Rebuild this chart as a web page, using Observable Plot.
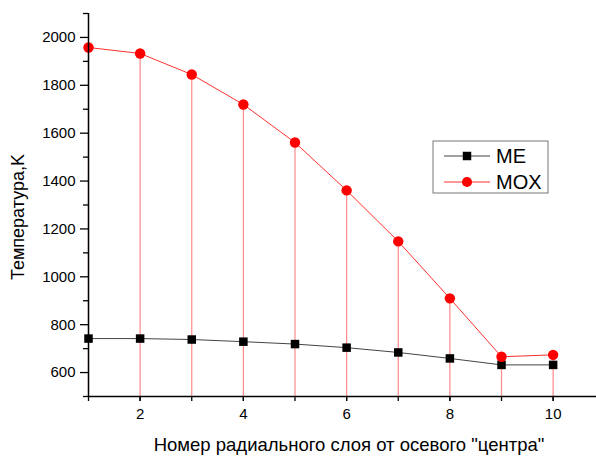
<!DOCTYPE html>
<html>
<head>
<meta charset="utf-8">
<script src="https://cdn.jsdelivr.net/npm/d3@7"></script>
<script src="https://cdn.jsdelivr.net/npm/@observablehq/plot@0.6"></script>
<style>
  html, body { margin: 0; padding: 0; background: #fff; }
  #chart { position: relative; width: 596px; height: 456px; }
</style>
</head>
<body>
<div id="chart"></div>
<script>
const layers = [1, 2, 3, 4, 5, 6, 7, 8, 9, 10];
const meValues = [742, 742, 738, 729, 719, 704, 684, 659, 632, 632];
const moxValues = [1958, 1933, 1845, 1720, 1561, 1361, 1148, 910, 666, 674];
const yMajorTicks = [600, 800, 1000, 1200, 1400, 1600, 1800, 2000];
const yMinorTicks = [500, 700, 900, 1100, 1300, 1500, 1700, 1900, 2100];
const xMajorTicks = [2, 4, 6, 8, 10];
const xAllTicks = [1, 2, 3, 4, 5, 6, 7, 8, 9, 10];
const seriesNames = ["ME", "MOX"];
const xTitle = "Номер радиального слоя от осевого \"центра\"";
const yTitle = "Температура,K";

const me = layers.map((x, i) => ({x, y: meValues[i]}));
const mox = layers.map((x, i) => ({x, y: moxValues[i]}));

const yMin = 500, yMax = 2100;
const FONT = "Liberation Sans, Arial, sans-serif";

const plot = Plot.plot({
  width: 596,
  height: 456,
  marginLeft: 88,
  marginTop: 13,
  marginBottom: 60,
  marginRight: 0,
  style: {fontFamily: FONT, fontSize: "15px", background: "#fff", color: "#000"},
  x: {domain: [1, 10.84]},
  y: {domain: [yMin, yMax]},
  marks: [
    Plot.ruleX(mox, {x: "x", y1: yMin, y2: "y", stroke: "#ff8a8a", strokeWidth: 1.2}),
    Plot.line(me, {x: "x", y: "y", stroke: "#444", strokeWidth: 1}),
    Plot.line(mox, {x: "x", y: "y", stroke: "#ff3030", strokeWidth: 1}),
    Plot.dot(me, {x: "x", y: "y", symbol: "square", r: 4.8, fill: "#000", stroke: "none"}),
    Plot.dot(mox, {x: "x", y: "y", symbol: "circle", r: 5.2, fill: "#ff0000", stroke: "none"}),
    Plot.ruleX([1], {y1: yMin, y2: yMax, stroke: "#000", strokeWidth: 1.5}),
    Plot.ruleY([yMin], {stroke: "#000", strokeWidth: 1.5}),
    Plot.axisY(yMajorTicks, {tickSize: 8, tickPadding: 5, tickFormat: "d", fontSize: 15, label: null, stroke: "#000", strokeWidth: 1.3}),
    Plot.axisY(yMinorTicks, {tickSize: 5, text: null, label: null, stroke: "#000", strokeWidth: 1.3}),
    Plot.axisX(xMajorTicks, {tickSize: 5, tickPadding: 7, tickFormat: "d", fontSize: 15, label: null, stroke: "#000", strokeWidth: 1.3}),
    Plot.axisX(xAllTicks, {tickSize: 5, text: null, label: null, stroke: "#000", strokeWidth: 1.3})
  ]
});

document.getElementById("chart").appendChild(plot);

const svg = d3.select(plot);

// Axis titles
svg.append("text").attr("transform", "translate(18,217) rotate(-90)")
  .attr("text-anchor", "middle").attr("dy", "0.36em")
  .attr("font-family", FONT).attr("font-size", 18).attr("fill", "#000").text(yTitle);
svg.append("text").attr("x", 349).attr("y", 444)
  .attr("text-anchor", "middle").attr("dy", "0.36em")
  .attr("font-family", FONT).attr("font-size", 18.5).attr("fill", "#000").text(xTitle);

// Legend box
const lg = svg.append("g").attr("transform", "translate(433,141)");
lg.append("rect").attr("x", 0).attr("y", 0).attr("width", 115).attr("height", 52)
  .attr("fill", "#fff").attr("stroke", "#777").attr("stroke-width", 1);
const items = [
  {name: seriesNames[0], color: "#444", fill: "#000", sym: d3.symbolSquare, size: 72, y: 15},
  {name: seriesNames[1], color: "#ff3030", fill: "#ff0000", sym: d3.symbolCircle, size: 80, y: 41}
];
for (const it of items) {
  lg.append("line").attr("x1", 11).attr("x2", 57).attr("y1", it.y).attr("y2", it.y)
    .attr("stroke", it.color).attr("stroke-width", 1);
  lg.append("path").attr("d", d3.symbol(it.sym, it.size)()).attr("transform", `translate(34,${it.y})`)
    .attr("fill", it.fill);
  lg.append("text").attr("x", 63).attr("y", it.y).attr("dy", "0.36em")
    .attr("text-anchor", "start")
    .attr("font-size", 20).attr("font-family", FONT).attr("fill", "#000").text(it.name);
}
</script>
</body>
</html>
